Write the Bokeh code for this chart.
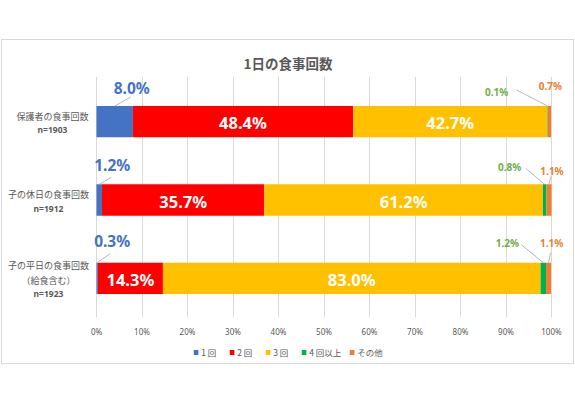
from bokeh.plotting import figure
from bokeh.layouts import column
from bokeh.models import (ColumnDataSource, LabelSet, Legend, LegendItem,
                          NumeralTickFormatter, FixedTicker, Range1d)
from bokeh.embed import file_html
from bokeh.resources import INLINE
from bokeh.core.properties import value

# ---------------- data ----------------
title_text = "1日の食事回数"
row_lines = [["保護者の食事回数"], ["子の休日の食事回数"], ["子の平日の食事回数", "（給食含む）"]]
row_n = ["n=1903", "n=1912", "n=1923"]
series = ["1 回", "2 回", "3 回", "4 回以上", "その他"]
v1 = [8.0, 1.2, 0.3]
v2 = [48.4, 35.7, 14.3]
v3 = [42.7, 61.2, 83.0]
v4 = [0.1, 0.8, 1.2]
v5 = [0.7, 1.1, 1.1]
x_ticks = [0, 10, 20, 30, 40, 50, 60, 70, 80, 90, 100]

# ---------------- styles ----------------
colors = ["#4472C4", "#FF0000", "#FFC000", "#00B050", "#ED7D31"]
label_green = "#70AD47"
gray = "#595959"
JP = "Noto Sans CJK JP"
NUM = "Noto Sans"

W = 571                  # chart box width
H_MAIN = 300             # main part height
H_LEG = 23               # legend strip height
PX_X = 455.0             # px for 0..100 %
PX_Y = 235.0 / 3         # px per row
LEFT_PAD = 94            # px from box left to the 0 % line
TOP_FRAME = 36
BOTTOM_BORDER = 23

nrows = len(row_n)
ypos = [nrows - 0.5 - i for i in range(nrows)]
vals = [v1, v2, v3, v4, v5]
lefts, rights = [], []
acc = [0.0] * nrows
for v in vals:
    lefts.append([a / 100 for a in acc])
    acc = [a + b for a, b in zip(acc, v)]
    rights.append([a / 100 for a in acc])
mids = [[(l + r) / 2 for l, r in zip(L, R)] for L, R in zip(lefts, rights)]

BAR_H = 0.4
frame_h = H_MAIN - TOP_FRAME - BOTTOM_BORDER
x_range = Range1d(-LEFT_PAD / PX_X, (W - LEFT_PAD) / PX_X)
y_range = Range1d(0, frame_h / PX_Y)

p = figure(width=W, height=H_MAIN, frame_width=W, frame_height=frame_h,
           x_range=x_range, y_range=y_range,
           output_backend="svg", toolbar_location=None,
           min_border_left=0, min_border_right=0,
           min_border_top=TOP_FRAME, min_border_bottom=BOTTOM_BORDER)
p.outline_line_color = None
p.background_fill_color = "white"
p.border_fill_color = "white"

p.title.text = title_text
p.title.align = "center"
p.title.text_font = JP
p.title.text_font_size = "13.5px"
p.title.text_font_style = "bold"
p.title.text_color = gray
p.title.standoff = 8

p.yaxis.visible = False
p.ygrid.grid_line_color = None
p.xgrid.grid_line_color = "#D9D9D9"
p.xaxis.ticker = FixedTicker(ticks=[t / 100 for t in x_ticks])
p.xaxis.formatter = NumeralTickFormatter(format="0%")
p.xaxis.axis_line_color = None
p.xaxis.major_tick_line_color = None
p.xaxis.major_tick_out = 0
p.xaxis.major_tick_in = 0
p.xaxis.minor_tick_line_color = None
p.xaxis.minor_tick_out = 0
p.xaxis.major_label_text_font = NUM
p.xaxis.major_label_text_font_size = "8px"
p.xaxis.major_label_text_color = gray
p.xaxis.major_label_standoff = 8

bar_sources = []
for k in range(5):
    src = ColumnDataSource(dict(y=ypos, left=lefts[k], right=rights[k]))
    bar_sources.append(src)
    p.hbar(y="y", left="left", right="right", height=BAR_H, source=src,
           fill_color=colors[k], line_color=None)

# leader lines
top = [y + BAR_H / 2 for y in ypos]
lx0, ly0, lx1, ly1 = [], [], [], []
def leader(xs, dxs, dys):
    for i in range(nrows):
        if dxs[i] is None:
            continue
        lx0.append(xs[i]); ly0.append(top[i])
        lx1.append(xs[i] + dxs[i] / PX_X); ly1.append(top[i] + dys[i] / PX_Y)
leader(mids[0], [16, 12, 13], [9, 7, 9])
leader(mids[3], [-31, -19, -22], [16, 16, 18])
leader(mids[4], [None, 2, 2], [0, 8, 10])
p.segment(x0=lx0, y0=ly0, x1=lx1, y1=ly1, line_color="#A6A6A6", line_width=0.8)

def pct(v):
    return [f"{a:.1f}%" for a in v]

def labelset(xs, ys, texts, xoff, yoff, color, size, font=NUM, bold=True):
    src = ColumnDataSource(dict(x=xs, y=ys, t=texts, xo=xoff, yo=yoff))
    ls = LabelSet(x="x", y="y", text="t", x_offset="xo", y_offset="yo", source=src,
                  text_align="center", text_baseline="middle",
                  text_color=color, text_font_size=size, text_font=value(font),
                  text_font_style="bold" if bold else "normal")
    p.add_layout(ls)

# inside labels
labelset(mids[1], ypos, pct(v2), [0] * nrows, [-1] * nrows, "white", "16.5px")
labelset(mids[2], ypos, pct(v3), [0] * nrows, [-1] * nrows, "white", "16.5px")
# 1回 labels above
labelset(mids[0], ypos, pct(v1), [17, 13, 15], [34, 35, 37], colors[0], "15.5px")
# 4回以上 labels
labelset(mids[3], ypos, pct(v4), [-51, -35, -36], [30, 33, 35], label_green, "10px")
# その他 labels
labelset(mids[4], ypos, pct(v5), [1, 3, 3], [36, 29, 35], colors[4], "10px")

# category labels (left)
cx, cy, ct, cxo, cyo = [], [], [], [], []
nx, ny, nt, nxo, nyo = [], [], [], [], []
cat_centers = [-44, -48, -48]
line_dy = [[5.5], [6], [13, -2]]
n_dy = [-7.5, -8, -15]
for i in range(nrows):
    for j, line in enumerate(row_lines[i]):
        cx.append(0); cy.append(ypos[i]); ct.append(line)
        cxo.append(cat_centers[i]); cyo.append(line_dy[i][j])
    nx.append(0); ny.append(ypos[i]); nt.append(row_n[i])
    nxo.append(cat_centers[i]); nyo.append(n_dy[i])
labelset(cx, cy, ct, cxo, cyo, gray, "9px", font=JP, bold=False)
labelset(nx, ny, nt, nxo, nyo, gray, "8.5px", font=NUM, bold=True)

# ---------------- legend strip ----------------
# the same bar data, kept out of this strip's view; only the legend is seen
lp = figure(width=W, height=H_LEG, x_axis_type=None, y_axis_type=None,
            x_range=Range1d(0, 1), y_range=Range1d(nrows + 10, nrows + 11),
            output_backend="svg", toolbar_location=None,
            min_border_left=0, min_border_right=0, min_border_top=0, min_border_bottom=0)
lp.outline_line_color = None
lp.background_fill_color = "white"
lp.border_fill_color = "white"
lp.grid.visible = False
leg_items = []
for s, c, src in zip(series, colors, bar_sources):
    r = lp.hbar(y="y", left="left", right="right", height=BAR_H, source=src,
                fill_color=c, line_color=None)
    leg_items.append(LegendItem(label=s, renderers=[r]))
legend = Legend(items=leg_items, orientation="horizontal", location="center",
                glyph_width=6, glyph_height=6, label_standoff=3, spacing=7,
                padding=0, margin=0, border_line_color=None, background_fill_alpha=0,
                label_text_font_size="8.5px", label_text_color=gray, label_text_font=JP,
                label_height=10)
lp.add_layout(legend)

layout = column(p, lp, spacing=0, margin=(40, 0, 0, 2))
layout.styles = {"outline": "1px solid #D9D9D9"}

open("out.html", "w").write(file_html(layout, INLINE))
